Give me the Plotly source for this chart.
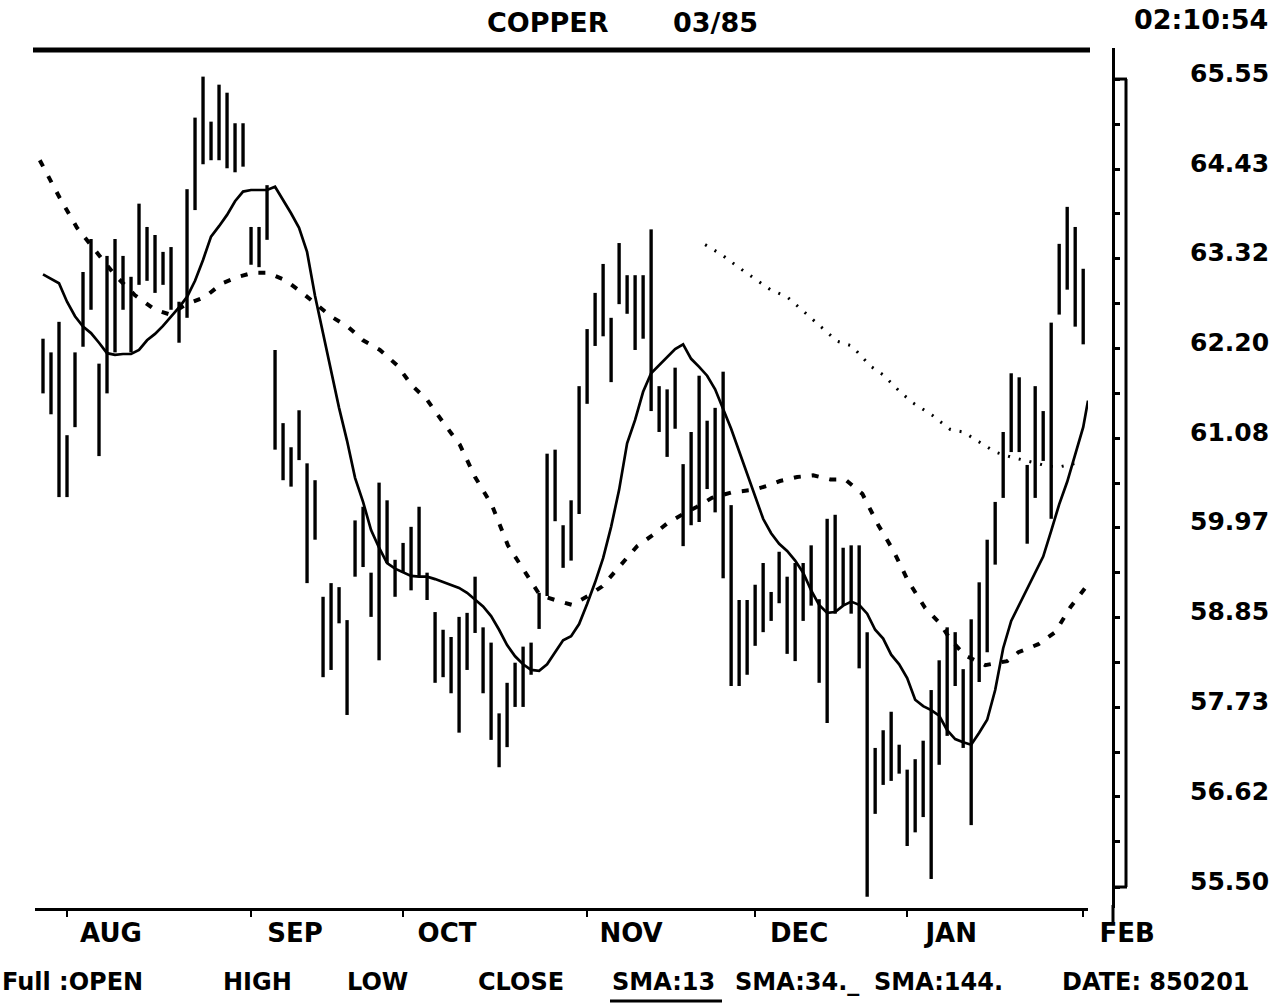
import plotly.graph_objects as go

# ---------------- data ----------------
# trading-session index: 0 = first session of August 1984
bar_day = list(range(-3, 128))
bar_high = [62.32, 62.15, 62.53, 61.12, 62.15, 63.15, 63.56, 62.01, 63.35, 63.56,
            63.35, 63.09, 64.00, 63.71, 63.61, 63.40, 63.46, 62.78, 64.18, 65.07,
            65.58, 65.02, 65.48, 65.38, 65.00, 65.00, 63.71, 63.71, 64.23, 62.18,
            61.27, 60.97, 61.43, 60.77, 60.56, 59.11, 59.28, 59.23, 58.82, 60.06,
            60.23, 59.41, 60.53, 60.31, 59.57, 59.78, 59.98, 60.23, 59.41, 58.92,
            58.70, 58.61, 58.86, 58.91, 59.36, 58.73, 58.54, 57.66, 58.04, 58.29,
            58.49, 58.54, 59.16, 60.89, 60.94, 60.00, 60.31, 61.73, 62.44, 62.89,
            63.25, 62.58, 63.51, 63.11, 63.11, 63.11, 63.68, 61.73, 61.69, 61.96,
            60.76, 61.16, 61.86, 61.30, 61.46, 61.91, 60.25, 59.07, 59.07, 59.26,
            59.53, 59.17, 59.67, 59.36, 59.53, 59.53, 59.75, 59.08, 60.08, 60.13,
            59.72, 59.75, 59.75, 58.67, 57.23, 57.45, 57.68, 57.27, 56.96, 57.09,
            57.32, 57.95, 58.32, 58.73, 58.67, 58.21, 58.83, 59.29, 59.82, 60.29,
            61.16, 61.89, 61.84, 60.75, 61.73, 61.42, 62.52, 63.50, 63.96, 63.71,
            63.19]
bar_low = [61.64, 61.38, 60.35, 60.35, 61.22, 62.22, 62.68, 60.86, 61.64, 62.15,
           62.68, 62.15, 62.99, 63.04, 62.89, 62.99, 62.68, 62.27, 62.58, 63.92,
           64.49, 64.54, 64.54, 64.44, 64.39, 64.46, 63.24, 63.21, 63.55, 60.94,
           60.56, 60.48, 60.81, 59.28, 59.82, 58.11, 58.20, 58.78, 57.64, 59.36,
           59.48, 58.86, 58.32, 59.53, 59.11, 59.41, 59.19, 59.36, 59.07, 58.04,
           58.11, 57.91, 57.42, 58.20, 58.66, 57.91, 57.33, 56.99, 57.24, 57.74,
           57.74, 58.14, 58.71, 59.12, 60.05, 59.47, 59.56, 60.14, 61.51, 62.23,
           62.35, 61.78, 62.75, 62.63, 62.18, 62.32, 61.42, 61.16, 60.85, 61.20,
           59.74, 60.00, 60.04, 60.45, 60.16, 59.34, 58.00, 58.00, 58.14, 58.50,
           58.67, 58.81, 59.03, 58.40, 58.31, 58.81, 59.00, 58.04, 57.54, 58.90,
           59.00, 58.90, 58.22, 55.38, 56.41, 56.77, 56.82, 56.91, 56.01, 56.18,
           56.37, 55.60, 57.02, 57.38, 58.00, 57.23, 56.27, 58.05, 58.42, 59.51,
           60.34, 60.91, 60.91, 59.77, 60.34, 60.80, 60.08, 62.62, 62.93, 62.47,
           62.25]

sma13_day = list(range(-3, 128)) + [127.6]
sma13_val = [63.12, 63.06, 63.01, 62.78, 62.60, 62.47, 62.39, 62.27, 62.14, 62.12,
             62.13, 62.13, 62.18, 62.30, 62.38, 62.48, 62.59, 62.71, 62.84, 63.04,
             63.30, 63.59, 63.72, 63.86, 64.03, 64.15, 64.17, 64.17, 64.17, 64.21,
             64.05, 63.88, 63.70, 63.40, 62.85, 62.39, 61.92, 61.46, 61.05, 60.59,
             60.29, 59.94, 59.72, 59.53, 59.46, 59.41, 59.37, 59.36, 59.36, 59.33,
             59.29, 59.26, 59.22, 59.16, 59.07, 58.99, 58.87, 58.70, 58.51, 58.37,
             58.27, 58.20, 58.19, 58.27, 58.42, 58.57, 58.62, 58.77, 59.02, 59.29,
             59.59, 59.98, 60.44, 61.02, 61.31, 61.66, 61.89, 61.99, 62.08, 62.19,
             62.25, 62.07, 61.97, 61.86, 61.69, 61.45, 61.20, 60.92, 60.64, 60.34,
             60.08, 59.90, 59.77, 59.68, 59.56, 59.41, 59.19, 59.01, 58.91, 58.92,
             59.00, 59.05, 59.01, 58.90, 58.70, 58.59, 58.39, 58.27, 58.10, 57.83,
             57.75, 57.70, 57.63, 57.45, 57.34, 57.30, 57.27, 57.42, 57.58, 57.95,
             58.47, 58.81, 59.01, 59.19, 59.41, 59.61, 59.93, 60.26, 60.54, 60.87,
             61.22, 61.55]

sma34_day = [-3.4, -0.9, 1.25, 3.5, 6.0, 8.5, 11.0, 12.9, 14.75, 17.25, 19.4, 21.4,
             23.25, 25.1, 27.25, 29.4, 33.1, 35.1, 37.0, 39.1, 41.25, 43.1, 45.0,
             47.0, 49.1, 51.0, 53.1, 55.1, 57.25, 59.1, 61.0, 63.1, 65.1, 66.9, 68.9,
             71.25, 73.1, 75.1, 77.0, 78.75, 80.6, 83.1, 85.75, 87.5, 89.1, 91.25,
             93.25, 95.4, 97.25, 99.4, 101.4, 103.25, 105.1, 107.25, 109.1, 110.4,
             112.25, 114.75, 117.5, 118.9, 121.4, 123.5, 125.4, 127.25]
sma34_val = [64.54, 64.07, 63.70, 63.42, 63.11, 62.86, 62.68, 62.62, 62.74, 62.84,
             63.01, 63.09, 63.14, 63.14, 63.05, 62.89, 62.59, 62.47, 62.30, 62.18,
             61.99, 61.74, 61.56, 61.28, 61.00, 60.60, 60.25, 59.75, 59.41, 59.13,
             59.07, 59.01, 59.12, 59.24, 59.47, 59.74, 59.87, 60.03, 60.14, 60.23,
             60.34, 60.41, 60.44, 60.49, 60.55, 60.60, 60.62, 60.57, 60.57, 60.39,
             60.00, 59.69, 59.31, 58.97, 58.78, 58.58, 58.38, 58.26, 58.31, 58.42,
             58.52, 58.67, 58.98, 59.22]

sma144_day = [79.75, 81.9, 83.9, 86.25, 87.9, 90.0, 94.75, 96.25, 98.1, 100.4, 102.0,
              104.1, 105.75, 108.1, 110.4, 112.0, 114.1, 116.0, 117.9, 120.0, 122.0,
              123.75, 126.0]
sma144_val = [63.49, 63.36, 63.21, 63.05, 62.93, 62.84, 62.43, 62.29, 62.23, 61.98,
              61.87, 61.66, 61.52, 61.37, 61.19, 61.16, 61.03, 60.91, 60.85, 60.80,
              60.75, 60.72, 60.77]

month_day = [0, 23, 42, 65, 86, 105, 127]
month_text = ["AUG", "SEP", "OCT", "NOV", "DEC", "JAN", "FEB"]

price_ticks = [65.55, 64.43, 63.32, 62.20, 61.08, 59.97, 58.85, 57.73, 56.62, 55.50]
price_text = ["65.55", "64.43", "63.32", "62.20", "61.08", "59.97", "58.85",
              "57.73", "56.62", "55.50"]

title_left = "COPPER"
title_contract = "03/85"
clock_text = "02:10:54"
legend_items = ["Full :OPEN", "HIGH", "LOW", "CLOSE", "SMA:13", "SMA:34._", "SMA:144.",
                "DATE: 850201"]

# ---------------- figure ----------------
W, H = 1272, 1006
ML, MR, MT, MB = 0, 0, 48, 98
FONT = "DejaVu Sans, sans-serif"
BLACK = "#000000"

y_lo, y_hi = 55.239, 65.936
half_ticks = [(a + b) / 2 for a, b in zip(price_ticks[:-1], price_ticks[1:])]
all_ticks = price_ticks + half_ticks

fig = go.Figure()
fig.add_trace(go.Bar(
    x=bar_day, y=[h - l for h, l in zip(bar_high, bar_low)], base=bar_low,
    width=0.42, marker=dict(color=BLACK, line=dict(width=0)), hoverinfo="skip"))
fig.add_trace(go.Scatter(x=sma13_day, y=sma13_val, mode="lines",
                         line=dict(color=BLACK, width=2.7)))
fig.add_trace(go.Scatter(x=sma34_day, y=sma34_val, mode="lines",
                         line=dict(color=BLACK, width=4, dash="7px,11px")))
fig.add_trace(go.Scatter(x=sma144_day, y=sma144_val, mode="lines",
                         line=dict(color=BLACK, width=3, dash="2px,9px")))

px = lambda p: p / W
py = lambda p: (H - MB - p) / (H - MT - MB)

common_y = dict(range=[y_lo, y_hi], showgrid=False, zeroline=False, automargin=False,
                fixedrange=True)
fig.update_layout(
    width=W, height=H, margin=dict(l=ML, r=MR, t=MT, b=MB, autoexpand=False),
    paper_bgcolor="white", plot_bgcolor="white", showlegend=False,
    font=dict(family=FONT, size=25, color=BLACK, weight=700),
    xaxis=dict(domain=[px(35), px(1088)], range=[-4, 127.6], showgrid=False,
               zeroline=False, automargin=False, fixedrange=True, showline=True,
               linewidth=3, linecolor=BLACK, ticks="outside", ticklen=6,
               tickwidth=2, tickcolor=BLACK, tickmode="array", tickvals=month_day,
               ticktext=month_text, ticklabelshift=44, ticklabelstandoff=-6,
               tickfont=dict(family=FONT, size=26, weight=700)),
    yaxis=dict(**common_y, side="right", anchor="free", position=px(1113),
               showline=True, linewidth=3, linecolor=BLACK, ticks="outside",
               ticklen=5, tickwidth=3, tickcolor=BLACK, tickmode="array",
               tickvals=price_ticks, ticktext=price_text, ticklabelstandoff=65,
               ticklabelshift=-6, tickfont=dict(family=FONT, size=25, weight=700),
               minor=dict(tickvals=half_ticks, ticks="outside", ticklen=5,
                          tickwidth=3, tickcolor=BLACK)),
    yaxis2=dict(**common_y, overlaying="y", side="right", anchor="free",
                position=px(1113), showline=False, ticks="inside", ticklen=5,
                tickwidth=3, tickcolor=BLACK, tickmode="array", tickvals=all_ticks,
                showticklabels=False),
    yaxis3=dict(**common_y, overlaying="y", side="left", anchor="free",
                position=px(14), showline=True, linewidth=3, linecolor=BLACK,
                ticks="outside", ticklen=5, tickwidth=3, tickcolor=BLACK,
                tickmode="array", tickvals=all_ticks, showticklabels=False),
    yaxis4=dict(**common_y, overlaying="y", side="right", anchor="free",
                position=px(14), showline=False, ticks="outside", ticklen=5,
                tickwidth=3, tickcolor=BLACK, tickmode="array", tickvals=all_ticks,
                showticklabels=False),
)

shapes = [
    # heavy rule under the title
    dict(type="line", xref="paper", yref="paper", x0=px(33), x1=px(1090),
         y0=py(50), y1=py(50), line=dict(color=BLACK, width=5)),
    # second line of the right price scale and its caps
    dict(type="line", xref="paper", yref="y", x0=px(1126), x1=px(1126),
         y0=price_ticks[0], y1=price_ticks[-1], line=dict(color=BLACK, width=3)),
    dict(type="line", xref="paper", yref="y", x0=px(1113), x1=px(1127),
         y0=price_ticks[0], y1=price_ticks[0], line=dict(color=BLACK, width=3)),
    dict(type="line", xref="paper", yref="y", x0=px(1113), x1=px(1127),
         y0=price_ticks[-1], y1=price_ticks[-1], line=dict(color=BLACK, width=3)),
    dict(type="line", xref="paper", yref="paper", x0=px(1113), x1=px(1113),
         y0=py(905), y1=py(922), line=dict(color=BLACK, width=3)),
    # underline sample of SMA:13
    dict(type="line", xref="paper", yref="paper", x0=px(610), x1=px(722),
         y0=py(1001), y1=py(1001), line=dict(color=BLACK, width=3)),
]
fig.update_layout(shapes=shapes)

ann = []
def text(s, x, y, anchor="center", size=25):
    ann.append(dict(text=s, xref="paper", yref="paper", x=px(x), y=py(y),
                    xanchor=anchor, yanchor="middle", showarrow=False,
                    font=dict(family=FONT, size=size, color=BLACK, weight=700)))

text(title_left, 548, 22, size=27)
text(title_contract, 715, 22, size=27)
text(clock_text, 1270, 20, anchor="right", size=27)
legend_x = [0, 257, 377, 521, 610, 733, 872, 1060]
legend_anchor = ["left", "center", "center", "center", "left", "left", "left", "left"]
for s, x, a in zip(legend_items, legend_x, legend_anchor):
    text(s, x, 982, anchor=a, size=24)
fig.update_layout(annotations=ann)

post = "document.body.style.margin = '0'; document.body.style.padding = '0';"
fig.write_html("out.html", post_script=post,
               config={"responsive": False, "displayModeBar": False})
